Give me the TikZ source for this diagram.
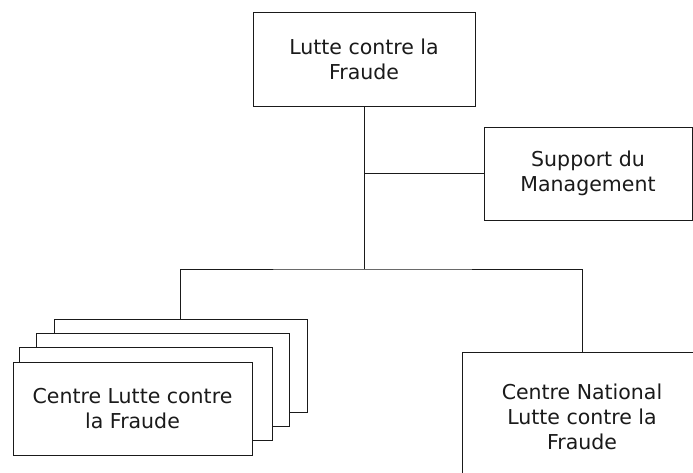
\documentclass[tikz,border=0pt]{standalone}
\usepackage{fontspec}
\setmainfont{DejaVu Sans}
\usepackage{xcolor}
\definecolor{chartink}{HTML}{1A1A1A}

\begin{document}
\begin{tikzpicture}[
  x=1pt,
  y=-1pt,
  every node/.style={font=\fontsize{20.5}{25}\selectfont, chartink},
  box/.style={draw=chartink, fill=white, line width=1pt, inner sep=0pt,
              align=center, minimum height=93pt},
  link/.style={chartink, line width=1pt}
]
  \useasboundingbox (0,0) rectangle (693,472);
  \clip (0,0) rectangle (693,472);

  %% ---- boîtes du haut ----------------------------------------------------
  \node[box, minimum width=222pt, minimum height=94pt] (lutte) at (364,59)
    {Lutte contre la\\Fraude};
  \node[box, minimum width=208pt] (support) at (588,173.5)
    {Support du\\Management};

  %% ---- pile des centres, de l'arrière vers l'avant -----------------------
  \node[box, minimum width=253pt] (stackd) at (180.5,365.5) {};
  \node[box, minimum width=253pt] (stackc) at (163,380) {};
  \node[box, minimum width=253pt] (stackb) at (145.5,393.5) {};
  \node[box, minimum width=239pt] (stacka) at (132.5,408.5)
    {Centre Lutte contre\\la Fraude};

  %% ---- centre national (coupé par le bord) -------------------------------
  \node[box, minimum width=240pt, minimum height=130pt] (national) at (582,417)
    {Centre National\\Lutte contre la\\Fraude};

  %% ---- liaisons ------------------------------------------------------------
  \coordinate (bus) at (364,269);
  \draw[link] (lutte.south) -- (bus);
  \draw[link] (lutte.south |- support.west) -- (support.west);
  \draw[link] (stackd.north) |- (bus) -| (national.north);
\end{tikzpicture}
\end{document}
